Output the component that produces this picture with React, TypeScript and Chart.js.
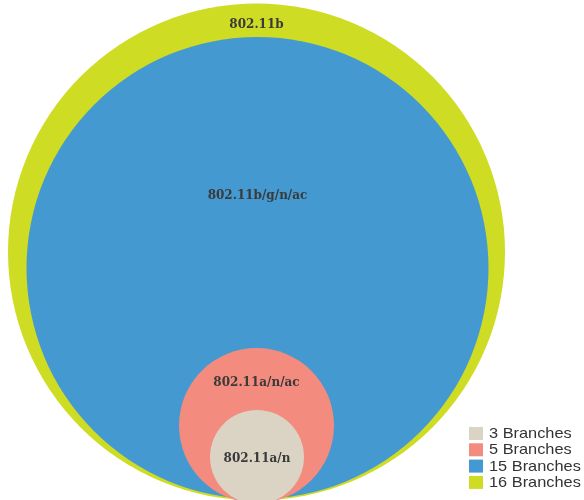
import React, { useEffect, useRef } from "react";
import { Chart, registerables } from "chart.js";

Chart.register(...registerables);

// ---- data ----
const branches = [3, 5, 15, 16];
const standards = ["802.11a/n", "802.11a/n/ac", "802.11b/g/n/ac", "802.11b"];
const centerX = [257, 256.5, 257.5, 256.5];
const centerY = [43, 74.5, 232, 248];
const radii = [47, 77.5, 231, 248.5];
const standardLabelY = [41, 117.5, 304, 475.5];
const colors = ["#dbd4c4", "#f38b7e", "#4499d1", "#cfdc24"];

const W = 584;
const H = 500;

const circleLabels = {
  id: "circleLabels",
  afterDatasetsDraw(chart: any) {
    const { ctx } = chart;
    const x = chart.scales.x;
    const y = chart.scales.y;
    ctx.save();
    ctx.font = "bold 12px 'DejaVu Serif'";
    ctx.fillStyle = "#3a3a3a";
    ctx.textAlign = "center";
    ctx.textBaseline = "middle";
    standards.forEach((name, i) => {
      ctx.fillText(name, x.getPixelForValue(centerX[i]), y.getPixelForValue(standardLabelY[i]));
    });
    ctx.restore();
  },
};

const cornerLegend = {
  id: "cornerLegend",
  afterDraw(chart: any) {
    const { ctx } = chart;
    const left = 469;
    const top = 427;
    const pitch = 16.3;
    ctx.save();
    ctx.font = "15px 'Liberation Sans'";
    ctx.textBaseline = "middle";
    ctx.textAlign = "left";
    chart.data.datasets.forEach((ds: any, i: number) => {
      const yTop = top + i * pitch;
      ctx.fillStyle = ds.backgroundColor;
      ctx.fillRect(left, yTop, 14, 13);
      ctx.fillStyle = "#333333";
      ctx.save();
      ctx.translate(left + 20, yTop + 7);
      ctx.scale(1.09, 1);
      ctx.fillText(ds.label, 0, 0);
      ctx.restore();
    });
    ctx.restore();
  },
};

export default function App() {
  const ref = useRef<HTMLCanvasElement | null>(null);
  useEffect(() => {
    if (!ref.current) return;
    const chart = new Chart(ref.current, {
      type: "bubble",
      data: {
        datasets: branches.map((b, i) => ({
          label: `${b} Branches`,
          data: [{ x: centerX[i], y: centerY[i], r: radii[i] }],
          backgroundColor: colors[i],
          borderWidth: 0,
          hoverBorderWidth: 0,
          clip: false as any,
        })),
      },
      options: {
        animation: false,
        responsive: false,
        devicePixelRatio: 1,
        events: [],
        layout: { padding: 0, autoPadding: false },
        scales: {
          x: { type: "linear", min: 0, max: W, display: false },
          y: { type: "linear", min: 0, max: H, display: false },
        },
        plugins: {
          legend: { display: false },
          tooltip: { enabled: false },
        },
      },
      plugins: [circleLabels, cornerLegend],
    });
    return () => chart.destroy();
  }, []);
  return (
    <div style={{ position: "absolute", left: 0, top: 0, width: W, height: H, background: "#fff" }}>
      <canvas ref={ref} width={W} height={H} style={{ display: "block" }} />
    </div>
  );
}
